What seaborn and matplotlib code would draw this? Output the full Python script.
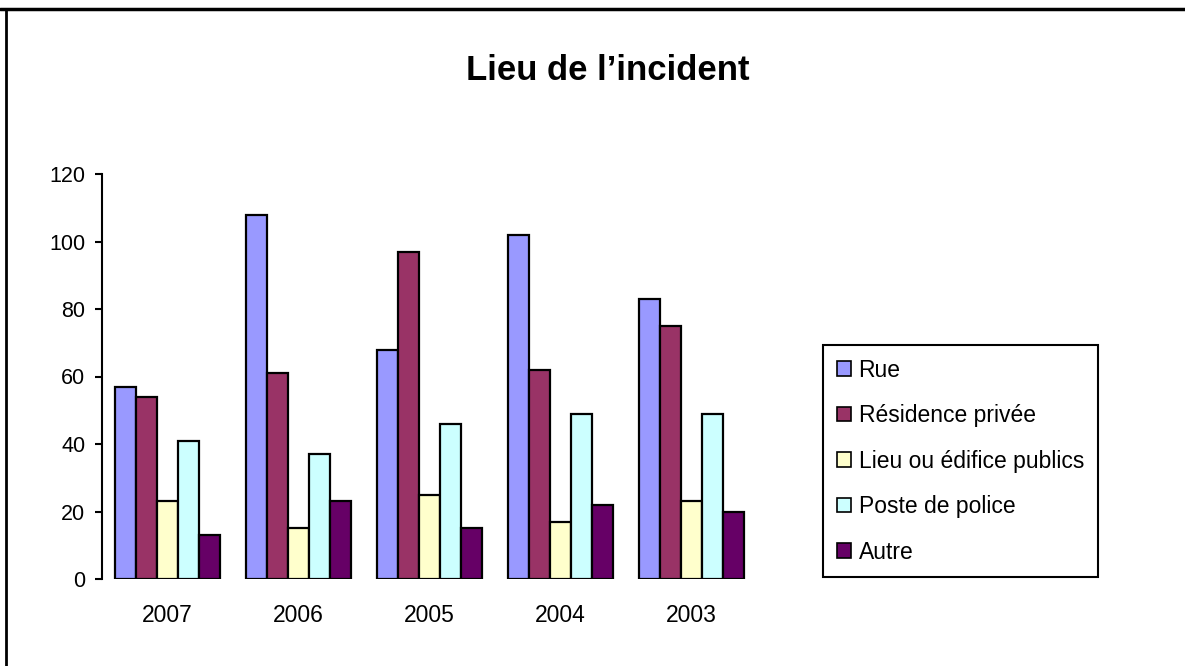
import matplotlib.pyplot as plt
import pandas as pd
import seaborn as sns
from matplotlib.lines import Line2D
from matplotlib.patches import Patch

years = ["2007", "2006", "2005", "2004", "2003"]
places = ["Rue", "Résidence privée", "Lieu ou édifice publics", "Poste de police", "Autre"]
rue = [57, 108, 68, 102, 83]
residence = [54, 61, 97, 62, 75]
lieu_public = [23, 15, 25, 17, 23]
poste_police = [41, 37, 46, 49, 49]
autre = [13, 23, 15, 22, 20]
colors = ["#9999FF", "#993366", "#FFFFCC", "#CCFFFF", "#660066"]

series = [rue, residence, lieu_public, poste_police, autre]
df = pd.DataFrame(
    [(y, p, v) for p, vals in zip(places, series) for y, v in zip(years, vals)],
    columns=["annee", "lieu", "nombre"],
)

sns.set_style("white")
plt.rcParams["font.family"] = ["Liberation Sans", "DejaVu Sans"]
plt.rcParams["text.color"] = "black"
plt.rcParams["xtick.color"] = "black"
plt.rcParams["ytick.color"] = "black"
plt.rcParams["axes.labelcolor"] = "black"

fig = plt.figure(figsize=(11.85, 6.66), dpi=100)
ax = fig.add_axes([102 / 1185, 87 / 666, 655 / 1185, 405 / 666])

sns.barplot(
    data=df,
    x="annee",
    y="nombre",
    hue="lieu",
    order=years,
    hue_order=places,
    palette=colors,
    saturation=1,
    width=0.8,
    edgecolor="black",
    linewidth=1.6,
    legend=False,
    ax=ax,
)

ax.set_xlim(-0.5, len(years) - 0.5)
ax.set_ylim(0, 120)
ax.set_yticks(range(0, 121, 20))
ax.set_xlabel("")
ax.set_ylabel("")
ax.tick_params(axis="y", left=True, length=5, width=1.5, pad=7, labelsize=15.5)
ax.tick_params(axis="x", bottom=False, length=0, pad=18, labelsize=16.5)
for side in ["top", "right", "bottom"]:
    ax.spines[side].set_visible(False)
ax.spines["left"].set_linewidth(1.5)
ax.spines["left"].set_color("black")

fig.text(608 / 1185, 1 - 70 / 666, "Lieu de l\u2019incident", ha="center", va="center",
         fontsize=25, fontweight="bold")

handles = [Patch(facecolor=c, edgecolor="black", linewidth=1.2) for c in colors]
leg = fig.legend(
    handles, places,
    loc="upper left",
    bbox_to_anchor=(823 / 1185, 1 - 345 / 666),
    frameon=True,
    fancybox=False,
    framealpha=1,
    fontsize=16.5,
    handlelength=0.6,
    handleheight=0.6,
    handletextpad=0.35,
    labelspacing=0.98,
    borderpad=0.6,
    borderaxespad=0,
)
leg.get_frame().set_edgecolor("black")
leg.get_frame().set_linewidth(1.5)

# chart frame (top and left edges)
fig.add_artist(Line2D([0, 1], [1 - 9 / 666, 1 - 9 / 666], color="black", linewidth=2.5))
fig.add_artist(Line2D([6 / 1185, 6 / 1185], [0, 1 - 9 / 666], color="black", linewidth=2))

fig.savefig("out.png", dpi=100)
